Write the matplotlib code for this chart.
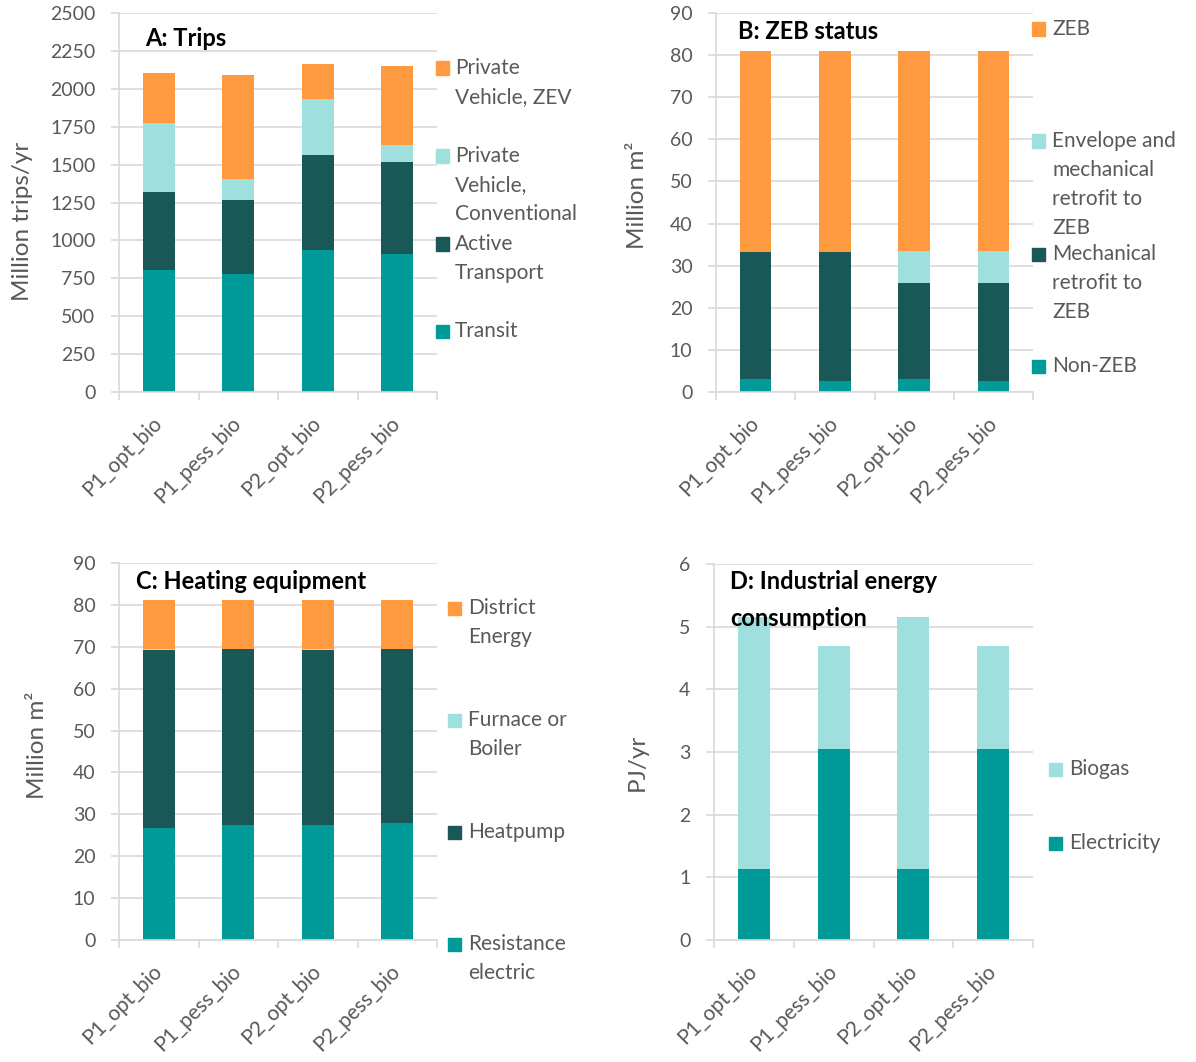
import numpy as np
import matplotlib
matplotlib.use("Agg")
import matplotlib.pyplot as plt
from matplotlib.patches import Rectangle

plt.rcParams["font.family"] = ["Lato", "DejaVu Sans"]

# ---- data -------------------------------------------------------------
categories = ["P1_opt_bio", "P1_pess_bio", "P2_opt_bio", "P2_pess_bio"]

# A: trips (million trips/yr), stacked bottom -> top
trips_transit = [805, 776, 934, 912]
trips_active = [515, 492, 630, 608]
trips_conventional = [454, 138, 368, 107]
trips_zev = [327, 682, 230, 524]

# B: ZEB status (million m2)
zeb_non = [3.1, 2.6, 3.1, 2.6]
zeb_mech = [30.1, 30.6, 22.9, 23.4]
zeb_env_mech = [0.0, 0.0, 7.4, 7.4]
zeb_zeb = [47.7, 47.7, 47.5, 47.5]

# C: heating equipment (million m2)
heat_resistance = [26.8, 27.5, 27.5, 28.0]
heat_heatpump = [42.4, 41.9, 41.7, 41.4]
heat_furnace = [0.3, 0.0, 0.3, 0.0]
heat_district = [11.7, 11.8, 11.7, 11.8]

# D: industrial energy consumption (PJ/yr)
ind_electricity = [1.14, 3.05, 1.14, 3.05]
ind_biogas = [4.01, 1.64, 4.01, 1.64]

# ---- style ------------------------------------------------------------
ORANGE = "#FF9A40"
LIGHT = "#9FE0DF"
DARK = "#1A5757"
TEAL = "#009A99"
GRID = "#D9D9D9"
TXT = "#595959"

W, H = 1196, 1062
fig = plt.figure(figsize=(W / 100, H / 100), dpi=100)


def axes_px(left, top, right, bottom):
    return fig.add_axes([left / W, 1 - bottom / H, (right - left) / W, (bottom - top) / H])


def stacked(ax, series, colors, ymax, ystep, ylabel, ylabel_pos, title, title_pos):
    x = np.arange(len(categories))
    base = np.zeros(len(categories))
    for vals, col in zip(series, colors):
        vals = np.asarray(vals, dtype=float)
        ax.bar(x, vals, 0.4, bottom=base, color=col, linewidth=0, zorder=2)
        base += vals
    ax.set_xlim(-0.5, len(categories) - 0.5)
    ax.set_ylim(0, ymax)
    ax.set_yticks(np.arange(0, ymax + ystep / 2, ystep))
    ax.yaxis.grid(True, color=GRID, linewidth=1.2, zorder=0)
    ax.set_axisbelow(True)
    ax.set_xticks(x)
    ax.set_xticklabels(categories, rotation=45, ha="right", va="center",
                       rotation_mode="anchor", fontsize=15, color=TXT)
    ax.set_xticks(np.arange(-0.5, len(categories), 1), minor=True)
    ax.tick_params(axis="x", which="major", length=0, pad=20)
    ax.tick_params(axis="x", which="minor", length=6, width=1.2, color=GRID)
    ax.tick_params(axis="y", length=6, width=1.2, color=GRID, labelsize=14,
                   labelcolor=TXT, pad=11)
    for s in ("top", "right"):
        ax.spines[s].set_visible(False)
    for s in ("left", "bottom"):
        ax.spines[s].set_color(GRID)
        ax.spines[s].set_linewidth(1.2)
    ax.set_ylabel(ylabel, fontsize=17.5, color=TXT)
    ax.yaxis.set_label_coords(*ylabel_pos)
    ax.text(title_pos[0], title_pos[1], title, transform=ax.transAxes,
            fontsize=17, fontweight="bold", color="black", ha="left",
            va="center", linespacing=1.75, zorder=5)


def legend_px(labels, colors, marker_x, text_x, centers, line_gap=29):
    for lab, col, yc in zip(labels, colors, centers):
        fig.patches.append(Rectangle((marker_x / W, 1 - (yc + 6.5) / H), 13 / W, 13 / H,
                                     transform=fig.transFigure, color=col))
        for i, line in enumerate(lab.split("\n")):
            fig.text(text_x / W, 1 - (yc + i * line_gap) / H, line, fontsize=15,
                     color=TXT, ha="left", va="center")


# A: Trips
axA = axes_px(119, 13, 437, 392)
stacked(axA, [trips_transit, trips_active, trips_conventional, trips_zev],
        [TEAL, DARK, LIGHT, ORANGE], 2500, 250, "Million trips/yr",
        (-0.272, 0.45), "A: Trips", (0.082, 0.934))
legend_px(["Private\nVehicle, ZEV", "Private\nVehicle,\nConventional",
           "Active\nTransport", "Transit"],
          [ORANGE, LIGHT, DARK, TEAL], 436, 455, [68, 156, 244, 331])

# B: ZEB status
axB = axes_px(716, 13, 1033, 392)
stacked(axB, [zeb_non, zeb_mech, zeb_env_mech, zeb_zeb],
        [TEAL, DARK, LIGHT, ORANGE], 90, 10, "Million m²",
        (-0.215, 0.52), "B: ZEB status", (0.069, 0.952))
legend_px(["ZEB", "Envelope and\nmechanical\nretrofit to\nZEB",
           "Mechanical\nretrofit to\nZEB", "Non-ZEB"],
          [ORANGE, LIGHT, DARK, TEAL], 1032, 1052, [29, 141, 254, 366])

# C: Heating equipment
axC = axes_px(119, 563, 437, 940)
stacked(axC, [heat_resistance, heat_heatpump, heat_furnace, heat_district],
        [TEAL, DARK, LIGHT, ORANGE], 90, 10, "Million m²",
        (-0.222, 0.517), "C: Heating equipment", (0.053, 0.952))
legend_px(["District\nEnergy", "Furnace or\nBoiler", "Heatpump",
           "Resistance\nelectric"],
          [ORANGE, LIGHT, DARK, TEAL], 448, 468, [608, 720, 832, 944])

# D: Industrial energy consumption
axD = axes_px(714, 564, 1033, 940)
stacked(axD, [ind_electricity, ind_biogas], [TEAL, LIGHT], 6, 1, "PJ/yr",
        (-0.208, 0.473), "D: Industrial energy\nconsumption", (0.05, 0.905))
legend_px(["Biogas", "Electricity"], [LIGHT, TEAL], 1049, 1069, [769, 843])

fig.savefig("out.png", dpi=100, facecolor="white")
